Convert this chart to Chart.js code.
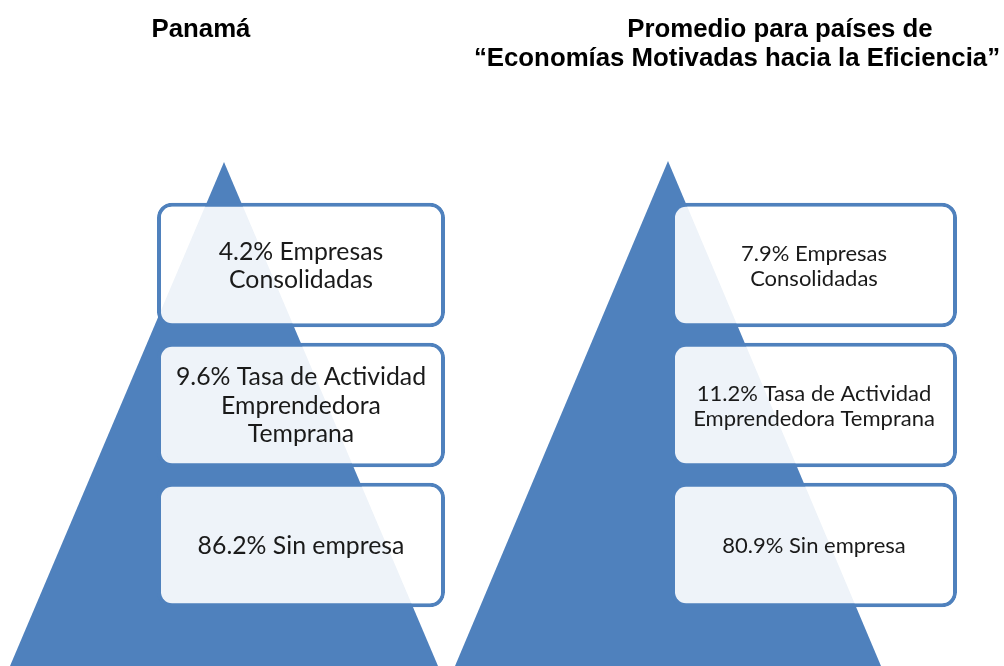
<!DOCTYPE html>
<html>
<head>
<meta charset="utf-8">
<script src="https://cdn.jsdelivr.net/npm/chart.js@4"></script>
<style>
    body { margin: 0; background: #fff; }
    #wrap { position: relative; width: 1004px; height: 666px; overflow: hidden; }
    #pyramids { position: absolute; left: 0; top: 0; }
    .title {
        position: absolute;
        transform: translateX(-50%);
        white-space: nowrap;
        font: bold 25.8px "Liberation Sans", Arial, sans-serif;
        line-height: 30px;
        color: #000;
    }
</style>
</head>
<body>
<div id="wrap">
    <canvas id="pyramids" width="1004" height="666"></canvas>
    <div class="title" style="left:201px; top:13px">Panamá</div>
    <div class="title" style="left:780px; top:13px">Promedio para países de</div>
    <div class="title" style="left:737px; top:42px">“Economías Motivadas hacia la Eficiencia”</div>
</div>
<script>
const categories = ['Empresas Consolidadas', 'Tasa de Actividad Emprendedora Temprana', 'Sin empresa'];
const panamaValues = [4.2, 9.6, 86.2];
const eficienciaValues = [7.9, 11.2, 80.9];

// how each category label wraps inside its box
const panamaLines = [['Empresas', 'Consolidadas'], ['Tasa de Actividad', 'Emprendedora', 'Temprana'], ['Sin empresa']];
const eficienciaLines = [['Empresas', 'Consolidadas'], ['Tasa de Actividad', 'Emprendedora Temprana'], ['Sin empresa']];

// page layout (pixels), kept apart from the data
const layout = {
    panama:     { apex: 224, apexY: 162, halfBase: 214, baseY: 666, boxFrom: 157, boxTo: 445, font: 24.8, lineH: 28.5 },
    eficiencia: { apex: 668, apexY: 161, halfBase: 213, baseY: 666, boxFrom: 671, boxTo: 957, font: 22, lineH: 25 }
};

const blue = '#4F81BD';

const pyramidPlugin = {
    id: 'pyramid',
    beforeDatasetsDraw(chart) {
        const { ctx, scales: { x, yPx } } = chart;
        ctx.save();
        ctx.fillStyle = blue;
        Object.values(layout).forEach(p => {
            ctx.beginPath();
            ctx.moveTo(x.getPixelForValue(p.apex), yPx.getPixelForValue(p.apexY));
            ctx.lineTo(x.getPixelForValue(p.apex + p.halfBase), yPx.getPixelForValue(p.baseY));
            ctx.lineTo(x.getPixelForValue(p.apex - p.halfBase), yPx.getPixelForValue(p.baseY));
            ctx.closePath();
            ctx.fill();
        });
        ctx.restore();
    }
};

const boxLabelPlugin = {
    id: 'boxLabels',
    afterDatasetsDraw(chart) {
        const { ctx } = chart;
        chart.data.datasets.forEach((ds, di) => {
            const meta = chart.getDatasetMeta(di);
            const p = ds.layout;
            ctx.save();
            ctx.fillStyle = '#1a1a1a';
            ctx.textAlign = 'center';
            ctx.textBaseline = 'middle';
            ctx.font = `${p.font}px Lato, "Open Sans", sans-serif`;
            meta.data.forEach((bar, i) => {
                const lines = ds.lines[i].slice();
                lines[0] = `${ds.values[i]}% ${lines[0]}`;
                const cx = (bar.x + bar.base) / 2;
                const top = bar.y + 1 - (lines.length - 1) * p.lineH / 2;
                lines.forEach((t, li) => ctx.fillText(t, cx, top + li * p.lineH));
            });
            ctx.restore();
        });
    }
};

function boxDataset(name, values, lines, p) {
    return {
        label: name,
        values,
        lines,
        layout: p,
        data: values.map(() => [p.boxFrom, p.boxTo]),
        backgroundColor: 'rgba(255, 255, 255, 0.9)',
        borderColor: blue,
        borderWidth: 4,
        borderRadius: 15,
        borderSkipped: false,
        grouped: false,
        barPercentage: 0.89,
        categoryPercentage: 1
    };
}

new Chart(document.getElementById('pyramids'), {
    type: 'bar',
    data: {
        labels: categories,
        datasets: [
            boxDataset('Panamá', panamaValues, panamaLines, layout.panama),
            boxDataset('Economías Motivadas hacia la Eficiencia', eficienciaValues, eficienciaLines, layout.eficiencia)
        ]
    },
    options: {
        indexAxis: 'y',
        responsive: false,
        animation: false,
        layout: { padding: { top: 195, bottom: 51, left: 0, right: 0 } },
        plugins: {
            legend: { display: false },
            tooltip: { enabled: false }
        },
        scales: {
            x: { type: 'linear', min: 0, max: 1004, offset: false, display: false },
            y: { type: 'category', display: false },
            yPx: { type: 'linear', axis: 'y', min: 195, max: 615, reverse: true, offset: false, display: false }
        }
    },
    plugins: [pyramidPlugin, boxLabelPlugin]
});
</script>
</body>
</html>
